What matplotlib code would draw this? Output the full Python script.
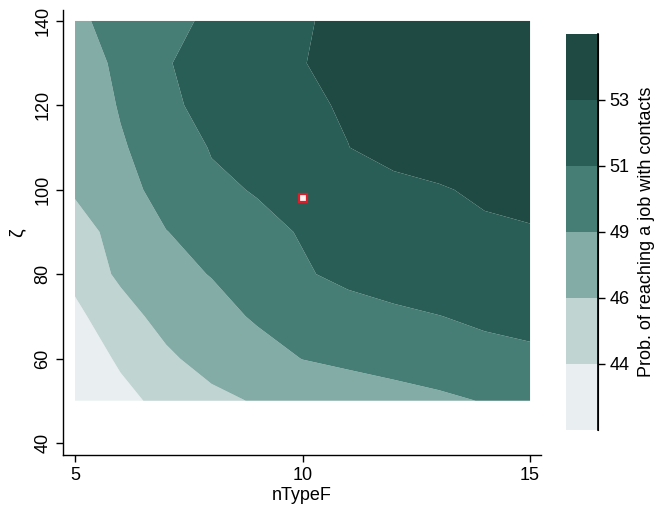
import matplotlib
matplotlib.use("Agg")
import matplotlib.pyplot as plt
import numpy as np

plt.rcParams['font.family'] = ['Liberation Sans', 'DejaVu Sans']

# grid of nTypeF (x) and zeta (y)
n_type_f = [5, 6, 7, 8, 9, 10, 11, 12, 13, 14, 15]
zeta = [50, 60, 70, 80, 90, 100, 110, 120, 130, 140]

# Prob. of reaching a job with contacts (rows = zeta, cols = nTypeF)
prob_50 = [41.8, 43.4, 44.6, 45.4, 46.2, 47.0, 47.6, 48.1, 48.6, 49.1, 49.5]
prob_60 = [42.7, 44.3, 45.6, 46.9, 48.0, 49.05, 49.5, 49.9, 50.2, 50.45, 50.67]
prob_70 = [43.6, 45.1, 46.8, 48.1, 49.3, 50.0, 50.4, 50.7, 50.97, 51.3, 51.5]
prob_80 = [44.45, 46.4, 48.2, 49.1, 50.0, 50.85, 51.35, 51.7, 52.0, 52.2, 52.4]
prob_90 = [45.3, 46.6, 48.95, 49.8, 50.6, 51.1, 51.6, 52.0, 52.3, 52.7, 52.9]
prob_100 = [46.2, 48.2, 49.8, 50.7, 51.1, 51.7, 52.2, 52.6, 52.85, 53.3, 53.4]
prob_110 = [47.0, 48.8, 50.0, 51.1, 51.9, 52.5, 52.98, 53.5, 53.9, 54.1, 54.2]
prob_120 = [47.6, 49.15, 50.6, 51.6, 52.3, 52.75, 53.15, 53.7, 54.1, 54.3, 54.4]
prob_130 = [48.0, 49.4, 50.9, 51.6, 52.3, 52.95, 53.5, 53.9, 54.2, 54.4, 54.5]
prob_140 = [48.7, 49.55, 50.5, 51.3, 52.1, 52.85, 53.4, 53.8, 54.1, 54.3, 54.4]

levels = [41, 44, 46, 49, 51, 53, 56]
level_labels = ["44", "46", "49", "51", "53"]
band_colors = ["#e9eff0", "#c0d4d2", "#84aca7", "#467e75", "#285e55", "#1f4a43"]

marker_x = [10]
marker_y = [98]

Z = np.array([prob_50, prob_60, prob_70, prob_80, prob_90,
              prob_100, prob_110, prob_120, prob_130, prob_140])
X, Y = np.meshgrid(n_type_f, zeta)

fig = plt.figure(figsize=(6.57, 5.12), dpi=100)
ax = fig.add_axes([0.0959, 0.1113, 0.7275, 0.8692])

cf = ax.contourf(X, Y, Z, levels=levels, colors=band_colors, antialiased=True)
ax.plot(marker_x, marker_y, marker='s', markersize=5.5, mfc='#fff0f0',
        mec='#d8202c', mew=1.6, linestyle='none')

ax.set_xlim(4.736, 15.24)
ax.set_ylim(37.14, 142.6)
ax.set_xticks([5, 10, 15])
ax.set_yticks([40, 60, 80, 100, 120, 140])
ax.tick_params(axis='both', labelsize=13, length=5, width=1, direction='out', colors='black')
for lab in ax.get_yticklabels():
    lab.set_rotation(90)
    lab.set_va('center')
ax.spines['top'].set_visible(False)
ax.spines['right'].set_visible(False)
ax.spines['left'].set_linewidth(1)
ax.spines['bottom'].set_linewidth(1)
ax.set_xlabel("nTypeF", fontsize=13, labelpad=2)
ax.set_ylabel("ζ", fontsize=14, labelpad=6)

cax = fig.add_axes([0.8615, 0.1602, 0.0487, 0.7734])
cb = fig.colorbar(cf, cax=cax)
cb.outline.set_visible(False)
cb.set_ticks(levels[1:-1])
cb.set_ticklabels(level_labels)
cax.tick_params(labelsize=13, length=5, width=1)
cax.spines['right'].set_visible(True)
cax.axvline(1.0, color='black', lw=1)
cb.ax.plot([1, 1], [0, 1], transform=cax.transAxes, color='black', lw=1.2, clip_on=False)
cb.set_label("Prob. of reaching a job with contacts", fontsize=13, labelpad=6)

fig.savefig("out.png", dpi=100)
